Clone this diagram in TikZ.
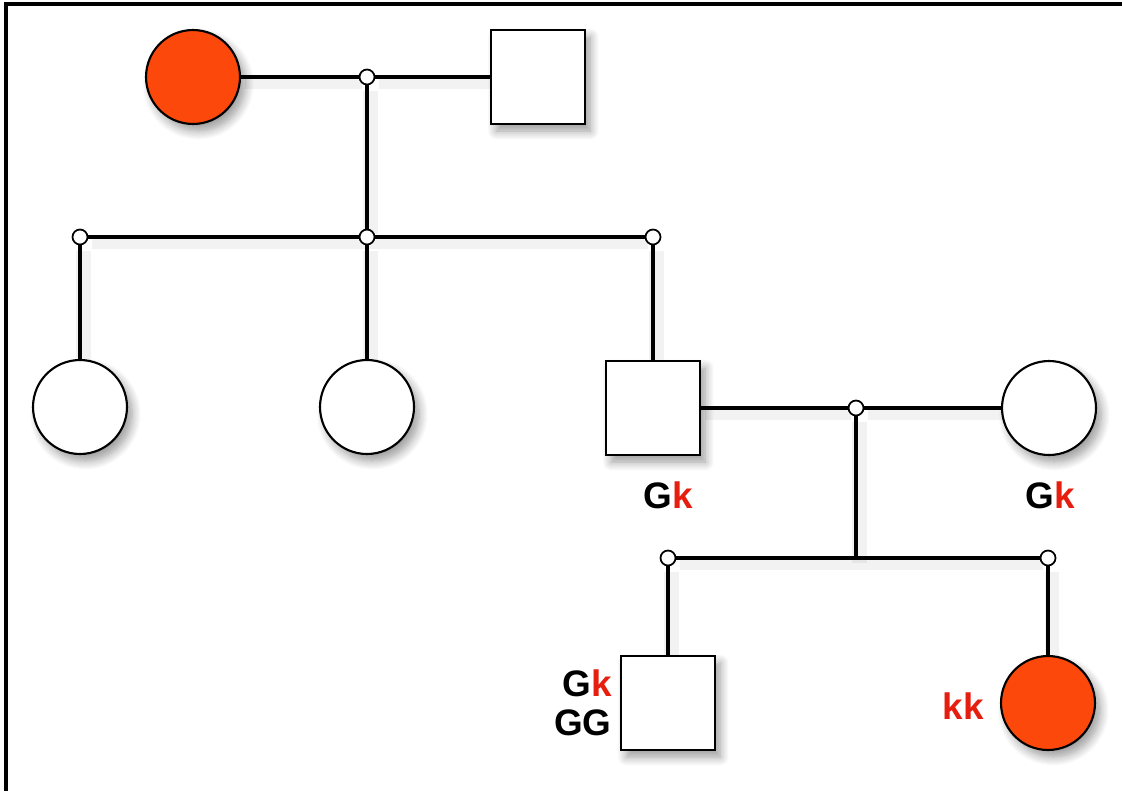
\documentclass[tikz,border=0pt]{standalone}
\usepackage{fontspec}
\setmainfont{Liberation Sans}
\usetikzlibrary{backgrounds,shadows.blur}
\definecolor{malade}{RGB}{252,72,10}
\definecolor{allele}{RGB}{230,30,15}
\tikzstyle{ombre} = [blur shadow={shadow xshift=3pt, shadow yshift=-4pt, shadow blur radius=5pt, shadow blur steps=10, shadow opacity=40}]
\tikzstyle{femme} = [circle, draw=black, line width=1.2pt, fill=white, minimum size=1.88cm, inner sep=0pt, ombre]
\tikzstyle{homme} = [rectangle, draw=black, line width=1.2pt, fill=white, minimum size=1.88cm, inner sep=0pt, ombre]
\tikzstyle{noeud} = [circle, draw=black, line width=1pt, fill=white, minimum size=0.3cm, inner sep=0pt]
\tikzstyle{lien} = [line width=2.1pt, preaction={draw=black, line width=8pt, opacity=0.05, transform canvas={shift={(2pt,-3pt)}}}]
\tikzstyle{geno} = [font=\fontsize{21}{22.5}\selectfont\bfseries, inner sep=0pt]
\newcommand{\rk}{\textcolor{allele}{k}}

\begin{document}
\begin{tikzpicture}[x=0.02cm, y=-0.02cm]

        \useasboundingbox (0,0) rectangle (1122,791);
        \draw[line width=2.2pt] (6,791) -- (6,4) -- (1122,4);

        % grands-parents
        \node (mere) [femme, fill=malade] at (193,77) {};
        \node (pere) [homme] at (538,77) {};
        \node (m1) [noeud] at (367,77) {};

        % enfants
        \node (s1a) [noeud] at (80,237) {};
        \node (s1b) [noeud] at (367,237) {};
        \node (s1c) [noeud] at (653,237) {};
        \node (fille1) [femme] at (80,407) {};
        \node (fille2) [femme] at (367,407) {};
        \node (fils) [homme] at (653,408) {};
        \node (epouse) [femme] at (1049,408) {};
        \node (m2) [noeud] at (856,408) {};

        % petits-enfants
        \coordinate (s2mid) at (856,558);
        \node (s2a) [noeud] at (668,558) {};
        \node (s2b) [noeud] at (1048,558) {};
        \node (petitfils) [homme] at (668,703) {};
        \node (petitefille) [femme, fill=malade] at (1048,703) {};

        \node (gfils) [geno] at (668,495) {G\rk};
        \node (gepouse) [geno] at (1050,495) {G\rk};
        \node (gpetitfils) [geno, align=right, anchor=east] at (612,703) {G\rk\\GG};
        \node (gpetitefille) [geno, text=allele] at (963,706) {kk};

        \begin{scope}[on background layer]
        \draw[lien] (mere) -- (m1) -- (pere);
        \draw[lien] (m1) -- (s1b);
        \draw[lien] (s1a) -- (s1c);
        \draw[lien] (s1a) -- (fille1);
        \draw[lien] (s1b) -- (fille2);
        \draw[lien] (s1c) -- (fils);
        \draw[lien] (fils) -- (m2) -- (epouse);
        \draw[lien] (m2) -- (s2mid);
        \draw[lien] (s2a) -- (s2b);
        \draw[lien] (s2a) -- (petitfils);
        \draw[lien] (s2b) -- (petitefille);
        \end{scope}

    \end{tikzpicture}
\end{document}
